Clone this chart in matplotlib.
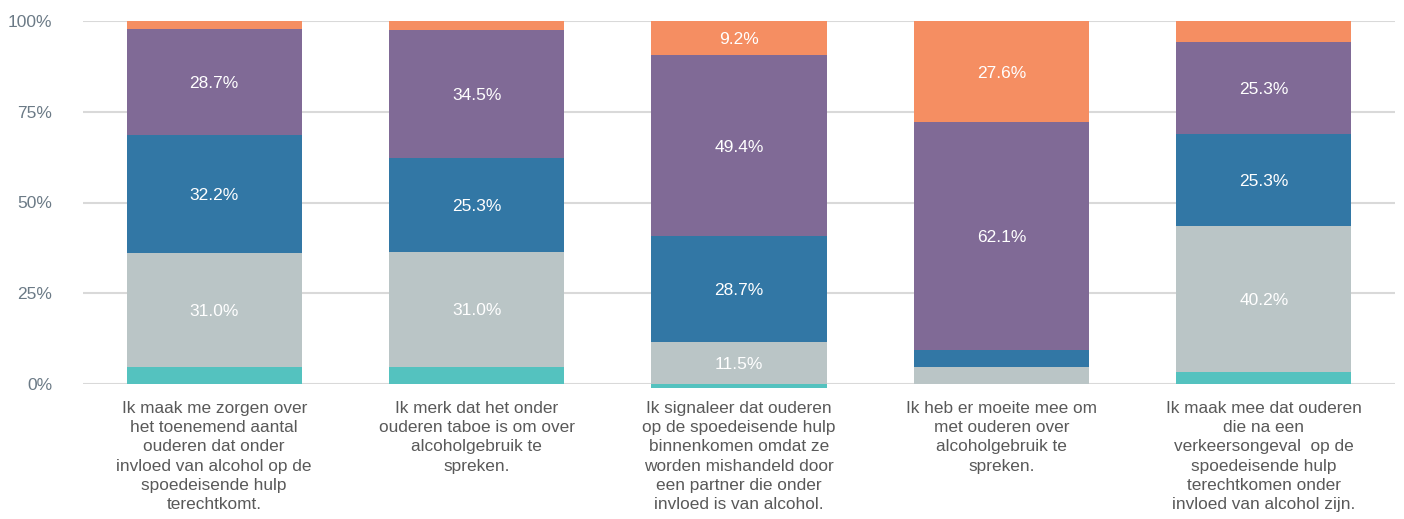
import matplotlib
matplotlib.use("Agg")
import matplotlib.pyplot as plt
import numpy as np

plt.rcParams['font.family'] = ['Liberation Sans', 'DejaVu Sans']

categories = [
    "Ik maak me zorgen over\nhet toenemend aantal\nouderen dat onder\ninvloed van alcohol op de\nspoedeisende hulp\nterechtkomt.",
    "Ik merk dat het onder\nouderen taboe is om over\nalcoholgebruik te\nspreken.",
    "Ik signaleer dat ouderen\nop de spoedeisende hulp\nbinnenkomen omdat ze\nworden mishandeld door\neen partner die onder\ninvloed is van alcohol.",
    "Ik heb er moeite mee om\nmet ouderen over\nalcoholgebruik te\nspreken.",
    "Ik maak mee dat ouderen\ndie na een\nverkeersongeval  op de\nspoedeisende hulp\nterechtkomen onder\ninvloed van alcohol zijn.",
]

# raw percentages per answer category (bottom to top)
teal   = [4.6, 4.6, -1.1, 0.0, 3.4]
gray   = [31.0, 31.0, 11.5, 4.6, 40.2]
blue   = [32.2, 25.3, 28.7, 4.6, 25.3]
purple = [28.7, 34.5, 49.4, 62.1, 25.3]
orange = [2.3, 2.3, 9.2, 27.6, 5.7]

yticks = [0, 25, 50, 75, 100]
ytick_labels = ["0%", "25%", "50%", "75%", "100%"]

colors = ["#54C2BF", "#BAC5C6", "#3277A5", "#806A96", "#F58E62"]
series = [teal, gray, blue, purple, orange]

fig = plt.figure(figsize=(14.04, 5.19), dpi=100)
ax = fig.add_axes([83/1404, 1 - 384/519, (1395 - 83)/1404, (384 - 21)/519])

data = np.array(series, dtype=float)
pos_total = np.where(data > 0, data, 0).sum(axis=0)
scaled = data / pos_total * 100

x = np.arange(len(categories))
width = 0.667
bottom_pos = np.zeros(len(categories))
bottom_neg = np.zeros(len(categories))
for vals, raw, col in zip(scaled, data, colors):
    for i in range(len(categories)):
        v = vals[i]
        if v == 0:
            continue
        if v > 0:
            b = bottom_pos[i]
            bottom_pos[i] += v
        else:
            b = bottom_neg[i]
            bottom_neg[i] += v
        ax.bar(x[i], v, width=width, bottom=b, color=col, zorder=3, clip_on=False)
        if abs(raw[i]) >= 8:
            ax.text(x[i], b + v / 2, f"{raw[i]:.1f}%", ha="center", va="center_baseline",
                    color="white", fontsize=12.5, zorder=4)

ax.set_xlim(-0.5, len(categories) - 0.5)
ax.set_ylim(0, 100)
ax.set_yticks(yticks)
ax.set_yticklabels(ytick_labels)
ax.set_xticks(x)
ax.set_xticklabels(categories, fontsize=12.4, color="#595959", linespacing=1.36)
ax.tick_params(axis="x", length=0, pad=12)
ax.tick_params(axis="y", length=0, pad=22, labelsize=12.5, labelcolor="#6B7A86")
ax.grid(axis="y", color="#D9D9D9", linewidth=1.5, zorder=0)
for s in ax.spines.values():
    s.set_visible(False)

fig.savefig("out.png", dpi=100)
